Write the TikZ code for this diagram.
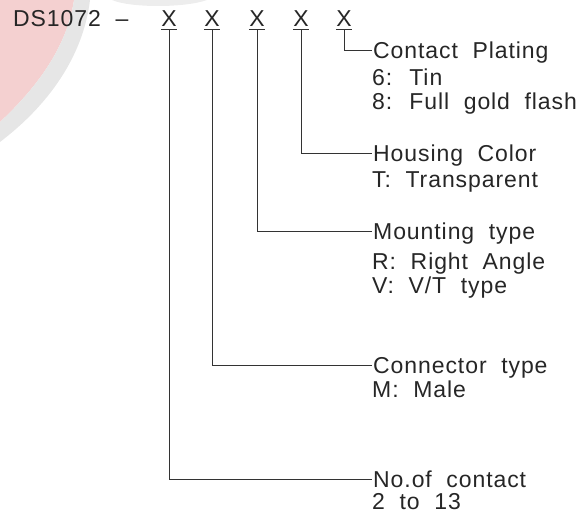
\documentclass[tikz,border=0pt]{standalone}
\usepackage{fontspec}
\setmainfont{Liberation Sans}[LetterSpace=4,WordSpace=2]
\definecolor{logored}{RGB}{244,208,208}
\definecolor{logogray}{RGB}{230,230,230}
\begin{document}
\begin{tikzpicture}[x=1pt,y=-1pt,
  txt/.style={inner sep=0pt, font=\fontsize{23}{23.5}\selectfont, text=black!85},
  head/.style={txt, anchor=west, text height=16.5pt, text depth=0pt, inner xsep=1pt},
  desc/.style={txt, anchor=north west, align=left},
  digit/.style={txt, anchor=base, minimum width=16pt, text depth=2.5pt},
  lead/.style={draw=black!80, line width=0.9pt}]
\useasboundingbox (0,0) rectangle (585,518);

% faint logo in the corner
\fill[logored] (0,0) -- (74,0) .. controls (68,40) and (45,80) .. (0,122) -- cycle;
\fill[logogray] (74,0) -- (90,0) .. controls (84,50) and (55,100) .. (0,142) -- (0,122) .. controls (45,80) and (68,40) .. (74,0) -- cycle;
\fill[logogray!70] (112,0) .. controls (130,8) and (185,8) .. (207,0) -- cycle;

% part number
\node[txt, anchor=base west] (part) at (13,27) {DS1072 --};
\node[digit] (x1) at (169,27) {X};
\node[digit] (x2) at (212,27) {X};
\node[digit] (x3) at (257,27) {X};
\node[digit] (x4) at (301,27) {X};
\node[digit] (x5) at (344,27) {X};
\draw[lead] (x1.south west) -- (x1.south east);
\draw[lead] (x2.south west) -- (x2.south east);
\draw[lead] (x3.south west) -- (x3.south east);
\draw[lead] (x4.south west) -- (x4.south east);
\draw[lead] (x5.south west) -- (x5.south east);

% Contact Plating
\node[head] (plating) at (372,50) {Contact Plating};
\node[desc] (platingopt) at ([yshift=-10.5pt]plating.base west) {6: Tin\\8: Full gold flash};

% Housing Color
\node[head] (housing) at (372,153) {Housing Color};
\node[desc] (housingopt) at ([yshift=-10.5pt]housing.base west) {T: Transparent};

% Mounting type
\node[head] (mounting) at (372,231) {Mounting type};
\node[desc] (mountingopt) at ([yshift=-13.5pt]mounting.base west) {R: Right Angle\\V: V/T type};

% Connector type
\node[head] (connector) at (372,365) {Connector type};
\node[desc] (connectoropt) at ([yshift=-7.5pt]connector.base west) {M: Male};

% No.of contact
\node[head] (contact) at (372,479) {No.of contact};
\node[desc] (contactopt) at ([yshift=-5.5pt]contact.base west) {2 to 13};

% Leaders
\draw[lead] (x5.south) |- (plating.west);
\draw[lead] (x4.south) |- (housing.west);
\draw[lead] (x3.south) |- (mounting.west);
\draw[lead] (x2.south) |- (connector.west);
\draw[lead] (x1.south) |- (contact.west);

\end{tikzpicture}
\end{document}
